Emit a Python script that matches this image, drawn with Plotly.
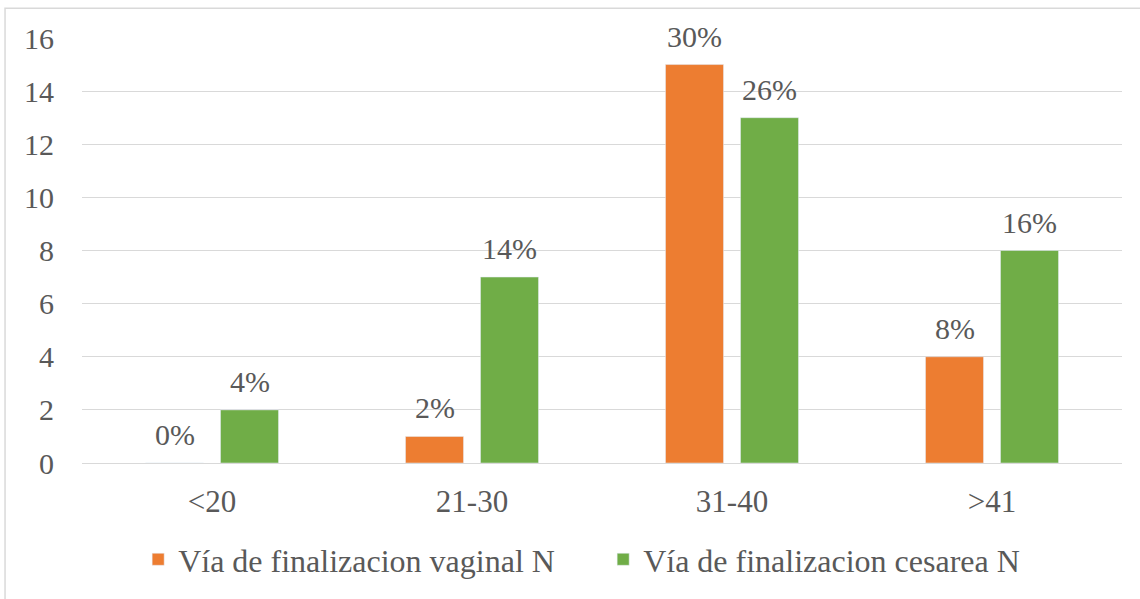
import plotly.graph_objects as go

categories = ["<20", "21-30", "31-40", ">41"]
vaginal_n = [0, 1, 15, 4]
cesarea_n = [2, 7, 13, 8]
vaginal_pct = ["0%", "2%", "30%", "8%"]
cesarea_pct = ["4%", "14%", "26%", "16%"]

font_family = "Liberation Serif"
grey_text = "#595959"

fig = go.Figure()
fig.add_trace(go.Bar(x=categories, y=vaginal_n,
                     name="Vía de finalizacion vaginal N",
                     marker_color="#ed7d31"))
fig.add_trace(go.Bar(x=categories, y=cesarea_n,
                     name="Vía de finalizacion cesarea N",
                     marker_color="#70ad47"))

# percentage labels above each bar (offset left/right to sit over its bar in the group)
for vals, labels, shift in [(vaginal_n, vaginal_pct, -37.5), (cesarea_n, cesarea_pct, 37.5)]:
    for cat, v, lab in zip(categories, vals, labels):
        fig.add_annotation(x=cat, y=v, text=lab, showarrow=False,
                           xanchor="center", yanchor="bottom",
                           xshift=shift, yshift=10,
                           font=dict(size=30, color=grey_text, family=font_family))

fig.update_layout(
    width=1140, height=599,
    margin=dict(l=82, r=18, t=38, b=134),
    paper_bgcolor="white", plot_bgcolor="white",
    barmode="group", bargap=0.423, bargroupgap=0.227,
    font=dict(family=font_family, size=30, color=grey_text),
    legend=dict(orientation="h", x=0.054, xanchor="left", y=-0.227, yanchor="middle",
                font=dict(size=32, color=grey_text, family=font_family), itemwidth=30,
                entrywidth=420, entrywidthmode="pixels",
                traceorder="normal"),
)
fig.update_yaxes(range=[0, 16], dtick=2, showgrid=True, gridcolor="#d9d9d9", gridwidth=1,
                 zeroline=False, showline=False, ticks="", ticklabelstandoff=27,
                 tickfont=dict(size=30, color=grey_text, family=font_family))
fig.update_xaxes(showline=True, linecolor="#d9d9d9", linewidth=1, ticks="",
                 ticklabelstandoff=11, tickfont=dict(size=31, color=grey_text, family=font_family))

# outer chart border, as in the spreadsheet export
fig.add_shape(type="rect", xref="paper", yref="paper",
              x0=-0.074, x1=1.05, y0=-0.4, y1=1.070,
              line=dict(color="#d9d9d9", width=1.5), fillcolor="rgba(0,0,0,0)", layer="below")

fig.write_html("out.html", config={"displayModeBar": False},
               post_script="document.body.style.margin='0';")
